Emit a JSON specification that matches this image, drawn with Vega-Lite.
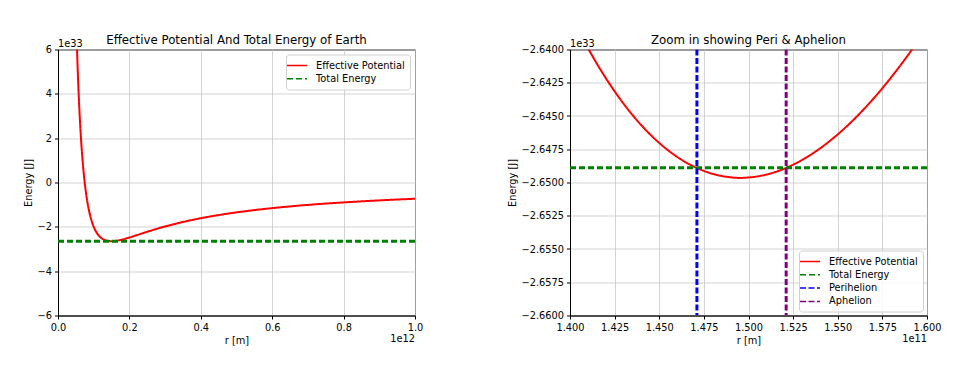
{
  "$schema": "https://vega.github.io/schema/vega-lite/v6.json",
  "padding": {"left": 22, "top": 33.5, "right": 5, "bottom": 5},
  "background": "white",
  "config": {
    "font": "DejaVu Sans",
    "view": {"stroke": "black", "strokeWidth": 1},
    "axis": {"labelFont": "DejaVu Sans", "labelFontSize": 9.8, "labelColor": "black", "titleFont": "DejaVu Sans", "titleFontSize": 9.8, "titleFontWeight": "normal", "titleColor": "black", "tickColor": "black", "tickSize": 3.5, "domainColor": "black", "gridColor": "#c8c8c8", "gridWidth": 0.8, "labelPadding": 3, "labelFlush": false, "labelOverlap": false, "labelBound": false},
    "title": {"font": "DejaVu Sans", "fontSize": 11.8, "fontWeight": "normal", "color": "black", "offset": -8},
    "legend": {"symbolType": "M-2,0H2", "symbolSize": 100, "symbolStrokeWidth": 1.5, "labelFont": "DejaVu Sans", "labelFontSize": 9.8, "labelColor": "black", "labelOffset": 13, "rowPadding": 2.3, "padding": 5, "strokeColor": "#d0d0d0", "fillColor": "rgba(255,255,255,0.85)", "cornerRadius": 3, "offset": 5}
  },
  "datasets": {
    "leftPot": [
      {"r": 0.05, "E": 7.855, "series": "Effective Potential"},
      {"r": 0.055, "E": 5.182, "series": "Effective Potential"},
      {"r": 0.06, "E": 3.254, "series": "Effective Potential"},
      {"r": 0.065, "E": 1.834, "series": "Effective Potential"},
      {"r": 0.07, "E": 0.773, "series": "Effective Potential"},
      {"r": 0.075, "E": -0.031, "series": "Effective Potential"},
      {"r": 0.08, "E": -0.647, "series": "Effective Potential"},
      {"r": 0.085, "E": -1.121, "series": "Effective Potential"},
      {"r": 0.09, "E": -1.489, "series": "Effective Potential"},
      {"r": 0.095, "E": -1.776, "series": "Effective Potential"},
      {"r": 0.1, "E": -1.999, "series": "Effective Potential"},
      {"r": 0.11, "E": -2.307, "series": "Effective Potential"},
      {"r": 0.12, "E": -2.489, "series": "Effective Potential"},
      {"r": 0.13, "E": -2.59, "series": "Effective Potential"},
      {"r": 0.14, "E": -2.637, "series": "Effective Potential"},
      {"r": 0.15, "E": -2.65, "series": "Effective Potential"},
      {"r": 0.16, "E": -2.638, "series": "Effective Potential"},
      {"r": 0.17, "E": -2.611, "series": "Effective Potential"},
      {"r": 0.18, "E": -2.574, "series": "Effective Potential"},
      {"r": 0.2, "E": -2.481, "series": "Effective Potential"},
      {"r": 0.22, "E": -2.378, "series": "Effective Potential"},
      {"r": 0.25, "E": -2.222, "series": "Effective Potential"},
      {"r": 0.3, "E": -1.983, "series": "Effective Potential"},
      {"r": 0.35, "E": -1.781, "series": "Effective Potential"},
      {"r": 0.4, "E": -1.611, "series": "Effective Potential"},
      {"r": 0.45, "E": -1.469, "series": "Effective Potential"},
      {"r": 0.5, "E": -1.348, "series": "Effective Potential"},
      {"r": 0.6, "E": -1.156, "series": "Effective Potential"},
      {"r": 0.7, "E": -1.011, "series": "Effective Potential"},
      {"r": 0.8, "E": -0.898, "series": "Effective Potential"},
      {"r": 0.9, "E": -0.807, "series": "Effective Potential"},
      {"r": 1.0, "E": -0.733, "series": "Effective Potential"}
    ],
    "leftEnergy": [
      {"r": 0.0, "E": -2.6489, "series": "Total Energy"},
      {"r": 1.0, "E": -2.6489, "series": "Total Energy"}
    ],
    "rightPot": [
      {"r": 1.4, "E": -2.637296, "series": "Effective Potential"},
      {"r": 1.41, "E": -2.639885, "series": "Effective Potential"},
      {"r": 1.42, "E": -2.64214, "series": "Effective Potential"},
      {"r": 1.43, "E": -2.644073, "series": "Effective Potential"},
      {"r": 1.44, "E": -2.645698, "series": "Effective Potential"},
      {"r": 1.45, "E": -2.647027, "series": "Effective Potential"},
      {"r": 1.46, "E": -2.648072, "series": "Effective Potential"},
      {"r": 1.47, "E": -2.648844, "series": "Effective Potential"},
      {"r": 1.48, "E": -2.649352, "series": "Effective Potential"},
      {"r": 1.49, "E": -2.649609, "series": "Effective Potential"},
      {"r": 1.495, "E": -2.649655, "series": "Effective Potential"},
      {"r": 1.5, "E": -2.649623, "series": "Effective Potential"},
      {"r": 1.51, "E": -2.649403, "series": "Effective Potential"},
      {"r": 1.52, "E": -2.648961, "series": "Effective Potential"},
      {"r": 1.53, "E": -2.648304, "series": "Effective Potential"},
      {"r": 1.54, "E": -2.647441, "series": "Effective Potential"},
      {"r": 1.55, "E": -2.646379, "series": "Effective Potential"},
      {"r": 1.56, "E": -2.645127, "series": "Effective Potential"},
      {"r": 1.57, "E": -2.643691, "series": "Effective Potential"},
      {"r": 1.58, "E": -2.64208, "series": "Effective Potential"},
      {"r": 1.59, "E": -2.640301, "series": "Effective Potential"},
      {"r": 1.6, "E": -2.638359, "series": "Effective Potential"}
    ],
    "rightLines": [
      {"r": 1.4, "E": -2.6489, "series": "Total Energy"},
      {"r": 1.6, "E": -2.6489, "series": "Total Energy"},
      {"r": 1.4711, "E": -2.64, "series": "Perihelion"},
      {"r": 1.4711, "E": -2.66, "series": "Perihelion"},
      {"r": 1.5211, "E": -2.64, "series": "Aphelion"},
      {"r": 1.5211, "E": -2.66, "series": "Aphelion"}
    ]
  },
  "spacing": 82,
  "align": "none",
  "resolve": {
    "scale": {"color": "independent", "strokeDash": "independent"},
    "legend": {"color": "independent", "strokeDash": "independent"}
  },
  "hconcat": [
    {
      "width": 357,
      "height": 266,
      "title": "Effective Potential And Total Energy of Earth",
      "layer": [
        {
          "data": {"name": "leftPot"},
          "mark": {"type": "line", "clip": true, "interpolate": "monotone", "strokeWidth": 2},
          "encoding": {
            "x": {"field": "r", "type": "quantitative", "scale": {"domain": [0, 1], "nice": false, "zero": false}, "axis": {"title": "r [m]", "values": [0, 0.2, 0.4, 0.6, 0.8, 1.0], "format": ".1f", "labelOverlap": false}},
            "y": {"field": "E", "type": "quantitative", "scale": {"domain": [-6, 6], "nice": false, "zero": false}, "axis": {"title": "Energy [J]", "values": [-6, -4, -2, 0, 2, 4, 6], "format": "d", "labelOverlap": false}},
            "color": {"field": "series", "type": "nominal", "scale": {"domain": ["Effective Potential", "Total Energy"], "range": ["#ff0000", "#008000"]}, "legend": {"title": null, "orient": "top-right"}},
            "strokeDash": {"field": "series", "type": "nominal", "scale": {"domain": ["Effective Potential", "Total Energy"], "range": [[1, 0], [6, 3]]}, "legend": {"title": null, "orient": "top-right"}}
          }
        },
        {
          "data": {"name": "leftEnergy"},
          "mark": {"type": "line", "clip": true, "strokeWidth": 3},
          "encoding": {
            "x": {"field": "r", "type": "quantitative", "axis": {"title": "r [m]", "values": [0, 0.2, 0.4, 0.6, 0.8, 1.0], "format": ".1f", "labelOverlap": false}},
            "y": {"field": "E", "type": "quantitative", "axis": {"title": "Energy [J]", "values": [-6, -4, -2, 0, 2, 4, 6], "format": "d", "labelOverlap": false}},
            "color": {"field": "series", "type": "nominal"},
            "strokeDash": {"field": "series", "type": "nominal"}
          }
        },
        {
          "data": {"values": [{}]},
          "mark": {"type": "text", "text": "1e33", "align": "left", "baseline": "bottom", "dy": -1, "fontSize": 9.8, "color": "black"},
          "encoding": {
            "x": {"datum": 0, "axis": {"title": "r [m]", "values": [0, 0.2, 0.4, 0.6, 0.8, 1.0], "format": ".1f", "labelOverlap": false}},
            "y": {"datum": 6, "axis": {"title": "Energy [J]", "values": [-6, -4, -2, 0, 2, 4, 6], "format": "d", "labelOverlap": false}}
          }
        },
        {
          "data": {"values": [{}]},
          "mark": {"type": "text", "text": "1e12", "align": "right", "baseline": "top", "dy": 18, "fontSize": 9.8, "color": "black"},
          "encoding": {
            "x": {"datum": 1, "axis": {"title": "r [m]", "values": [0, 0.2, 0.4, 0.6, 0.8, 1.0], "format": ".1f", "labelOverlap": false}},
            "y": {"datum": -6, "axis": {"title": "Energy [J]", "values": [-6, -4, -2, 0, 2, 4, 6], "format": "d", "labelOverlap": false}}
          }
        }
      ]
    },
    {
      "width": 357,
      "height": 266,
      "title": "Zoom in showing Peri & Aphelion",
      "layer": [
        {
          "data": {"name": "rightPot"},
          "mark": {"type": "line", "clip": true, "interpolate": "monotone", "strokeWidth": 2},
          "encoding": {
            "x": {"field": "r", "type": "quantitative", "scale": {"domain": [1.4, 1.6], "nice": false, "zero": false}, "axis": {"title": "r [m]", "values": [1.4, 1.425, 1.45, 1.475, 1.5, 1.525, 1.55, 1.575, 1.6], "format": ".3f", "labelOverlap": false}},
            "y": {"field": "E", "type": "quantitative", "scale": {"domain": [-2.66, -2.64], "nice": false, "zero": false}, "axis": {"title": "Energy [J]", "values": [-2.66, -2.6575, -2.655, -2.6525, -2.65, -2.6475, -2.645, -2.6425, -2.64], "format": ".4f", "labelOverlap": false}},
            "color": {"field": "series", "type": "nominal", "scale": {"domain": ["Effective Potential", "Total Energy", "Perihelion", "Aphelion"], "range": ["#ff0000", "#008000", "#0000ff", "#800080"]}, "legend": {"title": null, "orient": "bottom-right", "offset": 4}},
            "strokeDash": {"field": "series", "type": "nominal", "scale": {"domain": ["Effective Potential", "Total Energy", "Perihelion", "Aphelion"], "range": [[1, 0], [6, 3], [6, 2.5], [6, 2.5]]}, "legend": {"title": null, "orient": "bottom-right", "offset": 4}}
          }
        },
        {
          "data": {"name": "rightLines"},
          "mark": {"type": "line", "clip": true, "strokeWidth": 3},
          "encoding": {
            "x": {"field": "r", "type": "quantitative", "axis": {"title": "r [m]", "values": [1.4, 1.425, 1.45, 1.475, 1.5, 1.525, 1.55, 1.575, 1.6], "format": ".3f", "labelOverlap": false}},
            "y": {"field": "E", "type": "quantitative", "axis": {"title": "Energy [J]", "values": [-2.66, -2.6575, -2.655, -2.6525, -2.65, -2.6475, -2.645, -2.6425, -2.64], "format": ".4f", "labelOverlap": false}},
            "color": {"field": "series", "type": "nominal"},
            "strokeDash": {"field": "series", "type": "nominal"}
          }
        },
        {
          "data": {"values": [{}]},
          "mark": {"type": "text", "text": "1e33", "align": "left", "baseline": "bottom", "dy": -1, "fontSize": 9.8, "color": "black"},
          "encoding": {
            "x": {"datum": 1.4, "axis": {"title": "r [m]", "values": [1.4, 1.425, 1.45, 1.475, 1.5, 1.525, 1.55, 1.575, 1.6], "format": ".3f", "labelOverlap": false}},
            "y": {"datum": -2.64, "axis": {"title": "Energy [J]", "values": [-2.66, -2.6575, -2.655, -2.6525, -2.65, -2.6475, -2.645, -2.6425, -2.64], "format": ".4f", "labelOverlap": false}}
          }
        },
        {
          "data": {"values": [{}]},
          "mark": {"type": "text", "text": "1e11", "align": "right", "baseline": "top", "dy": 18, "fontSize": 9.8, "color": "black"},
          "encoding": {
            "x": {"datum": 1.6, "axis": {"title": "r [m]", "values": [1.4, 1.425, 1.45, 1.475, 1.5, 1.525, 1.55, 1.575, 1.6], "format": ".3f", "labelOverlap": false}},
            "y": {"datum": -2.66, "axis": {"title": "Energy [J]", "values": [-2.66, -2.6575, -2.655, -2.6525, -2.65, -2.6475, -2.645, -2.6425, -2.64], "format": ".4f", "labelOverlap": false}}
          }
        }
      ]
    }
  ]
}
